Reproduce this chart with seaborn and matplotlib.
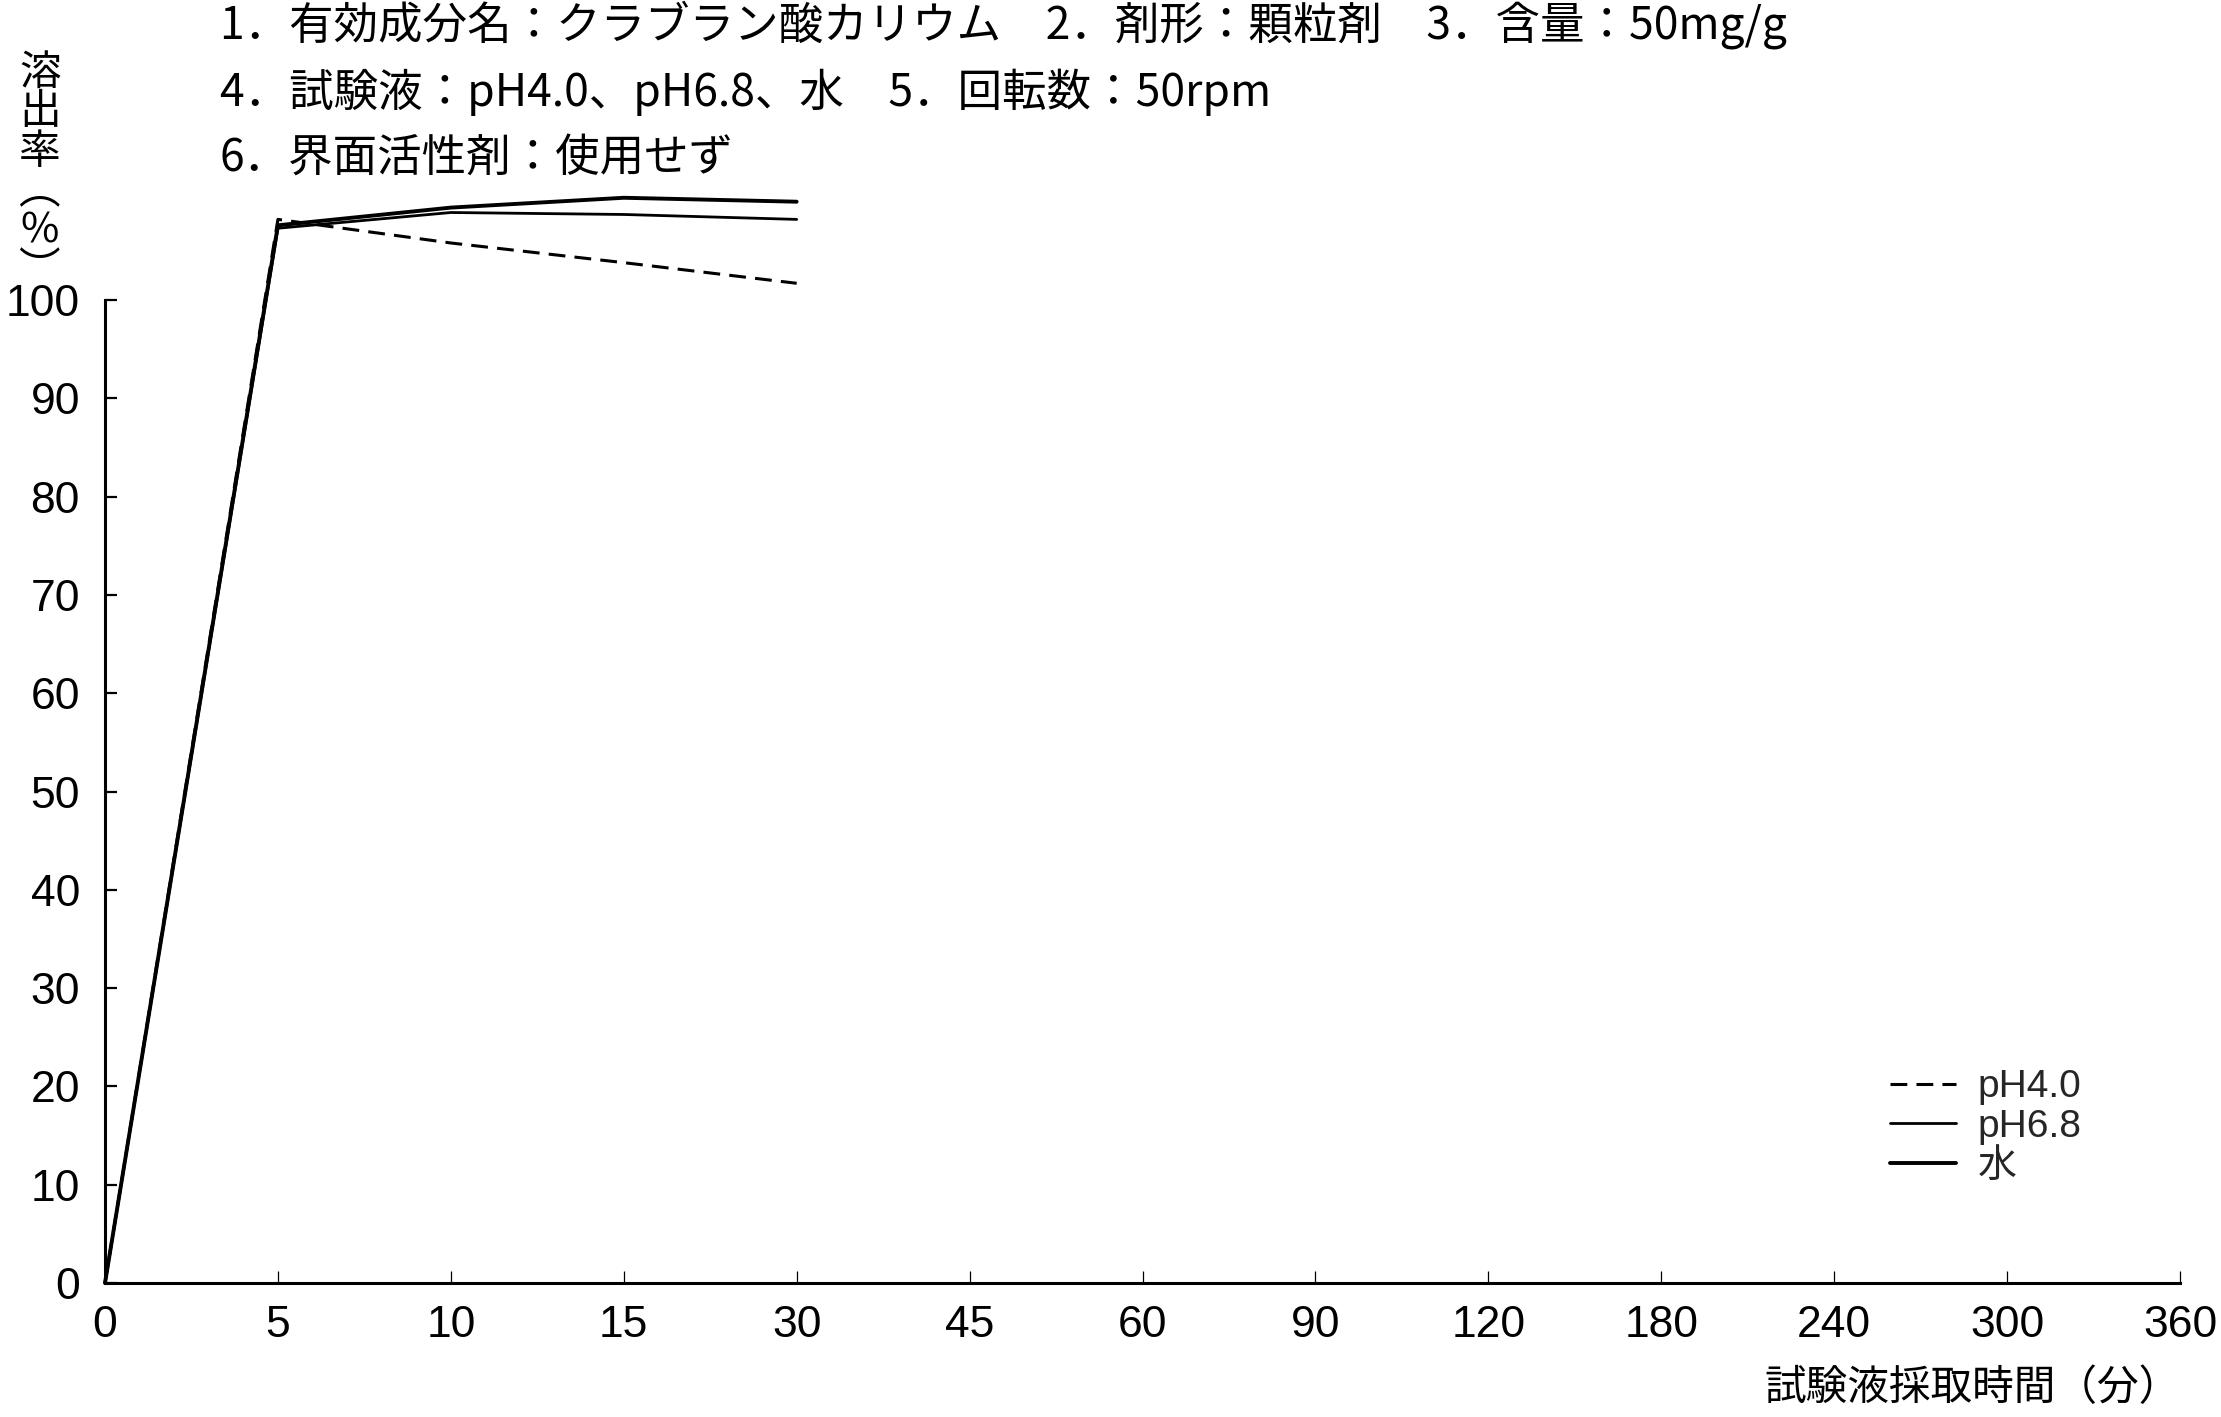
import matplotlib
matplotlib.use("Agg")
import matplotlib.pyplot as plt
import seaborn as sns
import pandas as pd
from matplotlib import font_manager

# ---- data ----
times = ["0", "5", "10", "15", "30", "45", "60", "90", "120", "180", "240", "300", "360"]
series_names = ["pH4.0", "pH6.8", "水"]
ph40 = [0, 108.2, 105.8, 103.8, 101.7]
ph68 = [0, 107.3, 108.9, 108.7, 108.2]
water = [0, 107.6, 109.4, 110.4, 110.0]
yticks = [0, 10, 20, 30, 40, 50, 60, 70, 80, 90, 100]

title_lines = [
    "1．有効成分名：クラブラン酸カリウム　2．剤形：顆粒剤　3．含量：50mg/g",
    "4．試験液：pH4.0、pH6.8、水　5．回転数：50rpm",
    "6．界面活性剤：使用せず",
]
ylabel = "溶\n出\n率\n︵\n%\n︶"
xlabel = "試験液採取時間（分）"

sns.set_theme(style="white")
names = {f.name for f in font_manager.fontManager.ttflist}
narrow = "Liberation Sans Narrow" if "Liberation Sans Narrow" in names else "Liberation Sans"
plt.rcParams["font.family"] = ["Liberation Sans", "Noto Sans CJK JP"]

fig = plt.figure(figsize=(22.21, 14.17), dpi=100)
ax = fig.add_axes([105 / 2221, 134 / 1417, (2180 - 105) / 2221, 115 * 9.83 / 1417])

values = {"pH4.0": ph40, "pH6.8": ph68, "水": water}
rows = []
for name in series_names:
    for i, v in enumerate(values[name]):
        rows.append({"series": name, "pos": i, "time": times[i], "value": v})
df = pd.DataFrame(rows)

styles = {
    "pH4.0": dict(linewidth=2.2, linestyle=(0, (5.5, 3))),
    "pH6.8": dict(linewidth=2.0, linestyle="-"),
    "水": dict(linewidth=2.8, linestyle="-"),
}
for name in series_names:
    sub = df[df["series"] == name]
    sns.lineplot(data=sub, x="pos", y="value", ax=ax, color="black", label=name,
                 clip_on=False, **styles[name])

ax.set_xlim(0, len(times) - 1)
ax.set_ylim(0, 115)
ax.set_xticks(range(len(times)))
ax.set_xticklabels(times)
ax.set_yticks(yticks)
ax.set_yticklabels([str(t) for t in yticks])
ax.set_xlabel("")
ax.set_ylabel("")
for s in ["top", "right"]:
    ax.spines[s].set_visible(False)
for s in ["left", "bottom"]:
    ax.spines[s].set_color("black")
    ax.spines[s].set_linewidth(2.2)
ax.spines["left"].set_bounds(0, 100)
ax.tick_params(axis="both", direction="in", color="black", labelcolor="black",
               bottom=True, left=True)
ax.tick_params(axis="y", width=1.6, length=8.5, labelsize=32, pad=18)
ax.tick_params(axis="x", width=0.9, length=9, labelsize=32, pad=16)
for lab in ax.get_xticklabels():
    lab.set_family([narrow, "Liberation Sans"])
for lab in ax.get_yticklabels():
    lab.set_family(["Liberation Sans"])

ys = [25, 92, 159]
for t, y in zip(title_lines, ys):
    fig.text(220 / 2221, 1 - y / 1417, t, ha="left", va="center", fontsize=32,
             family=["Noto Sans CJK JP", "DejaVu Sans"], color="black")

cjk = ["Noto Sans CJK JP", "DejaVu Sans"]
fig.text(40 / 2221, 1 - 172 / 1417, ylabel, ha="center", va="center", fontsize=30,
         linespacing=0.95, family=cjk, color="black")
fig.text(1973 / 2221, 1 - 1388 / 1417, xlabel, ha="center", va="center", fontsize=30,
         family=cjk, color="black")

handles, labels = ax.get_legend_handles_labels()
ax.legend(handles, labels, loc="center left", bbox_to_anchor=(1890 / 2221, 1 - 1127 / 1417),
          bbox_transform=fig.transFigure, frameon=False, handlelength=1.7,
          handletextpad=0.55, labelspacing=0.1, borderpad=0, borderaxespad=0,
          prop={"family": ["Liberation Sans", "Noto Sans CJK JP"], "size": 28})

fig.savefig("out.png", dpi=100, facecolor="white")
